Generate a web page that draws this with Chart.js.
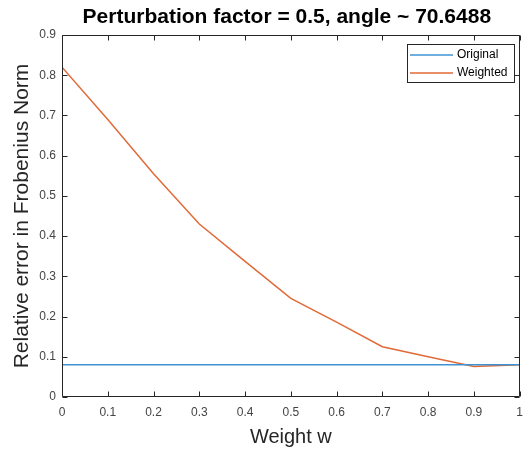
<!DOCTYPE html>
<html><head><meta charset="utf-8">
<script src="https://cdn.jsdelivr.net/npm/chart.js@4"></script>
<style>html,body{margin:0;padding:0;background:#fff}#wrap{width:531px;height:453px}</style>
</head><body><div id="wrap"><canvas id="c" width="531" height="453"></canvas></div>
<script>
const weights = [0, 0.1, 0.2, 0.3, 0.4, 0.5, 0.6, 0.7, 0.8, 0.9, 1];
const originalErr = [0.08, 0.08, 0.08, 0.08, 0.08, 0.08, 0.08, 0.08, 0.08, 0.08, 0.08];
const weightedErr = [0.82, 0.69, 0.555, 0.43, 0.337, 0.245, 0.186, 0.125, 0.100, 0.076, 0.080];
const xTicks = [0, 0.1, 0.2, 0.3, 0.4, 0.5, 0.6, 0.7, 0.8, 0.9, 1];
const yTicks = [0, 0.1, 0.2, 0.3, 0.4, 0.5, 0.6, 0.7, 0.8, 0.9];
const seriesNames = ['Original', 'Weighted'];
const titleText = 'Perturbation factor = 0.5, angle ~ 70.6488';
const xTitle = 'Weight w';
const yTitle = 'Relative error in Frobenius Norm';

const FONT = "'Liberation Sans', Arial, Helvetica, sans-serif";
const AXIS = '#262626';
const BLUE = '#3f93d2';
const ORANGE = '#e06a38';

const framePlugin = {
  id: 'frame',
  afterDatasetsDraw(chart) {
    const ctx = chart.ctx, a = chart.chartArea;
    const xs = chart.scales.x, ys = chart.scales.y;
    const L = Math.round(a.left) + 0.5, R = Math.round(a.right) - 0.5;
    const T = Math.round(a.top) + 0.5, B = Math.round(a.bottom) - 0.5;
    ctx.save();
    ctx.strokeStyle = AXIS;
    ctx.lineWidth = 1;
    ctx.beginPath();
    ctx.rect(L, T, R - L, B - T);
    const tl = 5;
    xTicks.forEach(v => {
      const px = Math.round(xs.getPixelForValue(v)) + 0.5;
      ctx.moveTo(px, B); ctx.lineTo(px, B - tl);
      ctx.moveTo(px, T); ctx.lineTo(px, T + tl);
    });
    yTicks.forEach(v => {
      const py = Math.round(ys.getPixelForValue(v)) + 0.5;
      ctx.moveTo(L, py); ctx.lineTo(L + tl, py);
      ctx.moveTo(R, py); ctx.lineTo(R - tl, py);
    });
    ctx.stroke();

    // title
    ctx.fillStyle = '#000';
    ctx.font = 'bold 21px ' + FONT;
    ctx.textAlign = 'center';
    ctx.textBaseline = 'middle';
    ctx.fillText(titleText, (a.left + a.right) / 2 - 4, 17);

    // legend
    const bx = 407.5, by = 44.5, bw = 107, bh = 38;
    ctx.fillStyle = '#fff';
    ctx.fillRect(bx, by, bw, bh);
    ctx.strokeStyle = AXIS;
    ctx.lineWidth = 1;
    ctx.strokeRect(bx, by, bw, bh);
    ctx.font = '12px ' + FONT;
    ctx.textAlign = 'left';
    ctx.textBaseline = 'middle';
    chart.data.datasets.forEach((ds, i) => {
      const yy = 55 + i * 18;
      ctx.strokeStyle = ds.borderColor;
      ctx.lineWidth = 1.5;
      ctx.beginPath();
      ctx.moveTo(410, yy); ctx.lineTo(453, yy);
      ctx.stroke();
      ctx.fillStyle = '#000';
      ctx.fillText(ds.label, 457, yy);
    });
    ctx.restore();
  }
};

new Chart(document.getElementById('c'), {
  type: 'line',
  data: {
    datasets: [
      { label: seriesNames[0], data: weights.map((w, i) => ({ x: w, y: originalErr[i] })),
        borderColor: BLUE, backgroundColor: BLUE, borderWidth: 1.5, pointRadius: 0, tension: 0 },
      { label: seriesNames[1], data: weights.map((w, i) => ({ x: w, y: weightedErr[i] })),
        borderColor: ORANGE, backgroundColor: ORANGE, borderWidth: 1.5, pointRadius: 0, tension: 0 }
    ]
  },
  options: {
    responsive: false,
    animation: false,
    devicePixelRatio: 1,
    layout: { padding: { top: 35, right: 5, left: 0, bottom: 0 } },
    plugins: { legend: { display: false }, title: { display: false }, tooltip: { enabled: false } },
    scales: {
      x: {
        type: 'linear', min: 0, max: 1,
        afterBuildTicks: s => { s.ticks = xTicks.map(v => ({ value: v })); },
        afterFit: s => { s.height = 56; },
        grid: { display: false, drawTicks: false },
        border: { display: false },
        ticks: { padding: 8, color: '#444', font: { family: FONT, size: 12 }, maxRotation: 0, autoSkip: false,
                 callback: v => String(v) },
        title: { display: true, text: xTitle, color: '#262626', font: { family: FONT, size: 20 }, padding: { top: 0, bottom: 4 } }
      },
      y: {
        type: 'linear', min: 0, max: 0.9,
        afterBuildTicks: s => { s.ticks = yTicks.map(v => ({ value: v })); },
        afterFit: s => { s.width = 62; },
        grid: { display: false, drawTicks: false },
        border: { display: false },
        ticks: { padding: 6, color: '#444', font: { family: FONT, size: 12 }, autoSkip: false,
                 callback: v => String(v) },
        title: { display: true, text: yTitle, color: '#262626', font: { family: FONT, size: 21 }, padding: { top: 10, bottom: 0 } }
      }
    }
  },
  plugins: [framePlugin]
});
</script></body></html>
